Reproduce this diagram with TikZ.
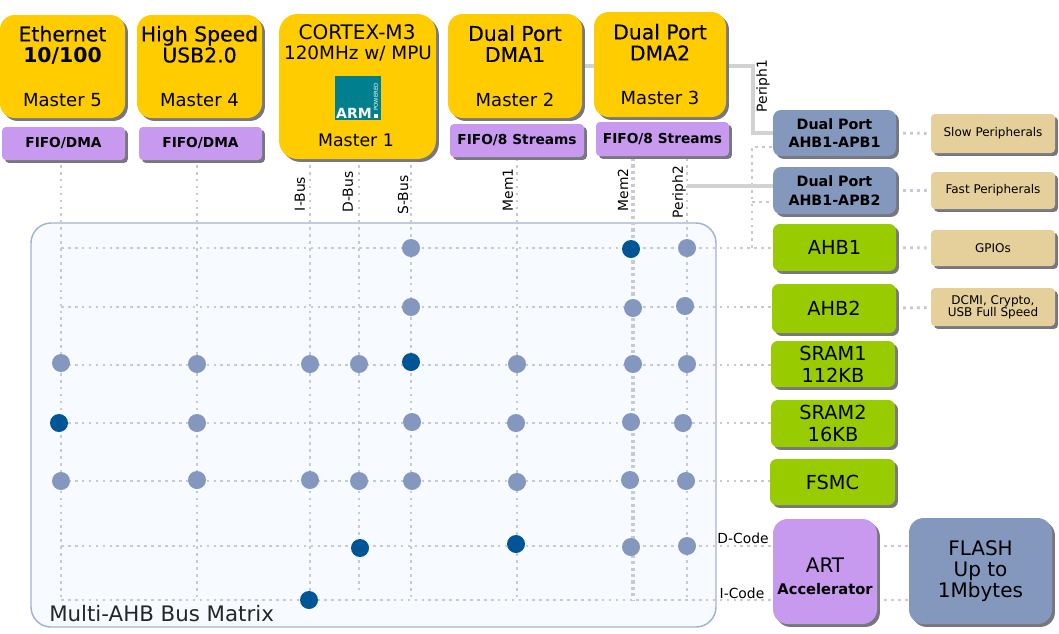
\documentclass[tikz,border=0pt]{standalone}
\usepackage{fontspec}
\setmainfont{DejaVu Sans}
\newfontfamily\semi[FakeBold=0.35]{DejaVu Sans}
\usetikzlibrary{shadows,backgrounds}
\definecolor{ybox}{HTML}{FFCC00}
\definecolor{pbox}{HTML}{C799EF}
\definecolor{bbox}{HTML}{8497BC}
\definecolor{gbox}{HTML}{99CC00}
\definecolor{tbox}{HTML}{E5CF9A}
\definecolor{shad}{HTML}{77777F}
\definecolor{panel}{HTML}{F7FAFF}
\definecolor{panelb}{HTML}{A3B2D3}
\definecolor{busc}{HTML}{C6CAD2}
\definecolor{solc}{HTML}{D2D2D4}
\definecolor{dotl}{HTML}{8497BF}
\definecolor{dotd}{HTML}{005596}
\definecolor{armc}{HTML}{00808F}
\newcommand\fs[1]{\fontsize{#1}{#1}\selectfont}
\newcommand\bxn[7]{\node[#1,minimum width={(#5-#3)*0.75pt},minimum height={(#6-#4)*0.75pt}] (#2) at ({(#3+#5)/2},{(#4+#6)/2}) {#7};}
\tikzset{
 anybox/.style={rectangle,inner sep=0pt,align=center,text=black,general shadow={fill=shad,shadow xshift=2.2pt,shadow yshift=-2.2pt}},
 big/.style={anybox,rounded corners=11pt,fill=ybox,font=\fs{15.3}\semi},
 cortex/.style={anybox,rounded corners=14pt,fill=ybox,font=\fs{13.5}},
 fifo/.style={anybox,rounded corners=3pt,fill=pbox,font=\fs{10.3}\bfseries},
 bridge/.style={anybox,rounded corners=6pt,fill=bbox,font=\fs{10.7}\bfseries},
 green/.style={anybox,rounded corners=5pt,fill=gbox,font=\fs{14.5}},
 periph/.style={anybox,rounded corners=3pt,fill=tbox,font=\fs{9}},
 art/.style={anybox,rounded corners=11pt,fill=pbox,font=\fs{15}},
 flash/.style={anybox,rounded corners=11pt,fill=bbox,font=\fs{15}},
 bus/.style={draw=busc,line width=2.2pt,dash pattern=on 2pt off 3.2pt},
 busw/.style={draw=busc,line width=3pt,dash pattern=on 2.4pt off 2.4pt},
 solidl/.style={draw=solc,line width=2.8pt},
 dot/.style={circle,inner sep=0pt,minimum size=13.5pt},
 ld/.style={dot,fill=dotl},
 dd/.style={dot,fill=dotd},
 vlab/.style={rotate=90,inner sep=0pt,font=\fs{10.4},text=black},
 hlab/.style={inner sep=0pt,font=\fs{10.4},text=black},
}
\begin{document}
\begin{tikzpicture}[x=0.75pt,y=-0.75pt]
\useasboundingbox (0,0) rectangle (1059,633);
% column and row anchors
\foreach \n/\x/\yb in {c1/61/600,c2/197/600,c3/310/600,c4/359/590,c5/411/600,c6/517/600,c7/633/600,c8/687/600}{
  \coordinate (\n t) at (\x,158);
  \coordinate (\n b) at (\x,\yb);
}
\foreach \n/\y in {r1/248,r2/307,r3/365,r4/423,r5/481,r6/546,r7/600}{
  \coordinate (\n) at (61,\y);
}
\coordinate (p1a) at (753,66);
\coordinate (p1b) at (753,133);
\coordinate (p2a) at (687,186);
\coordinate (ahbt) at (752,248);
\coordinate (ahba) at (752,147);
\coordinate (ahbb) at (752,202);
% boxes
\bxn{green}{ahba1}{773}{224}{896}{271}{AHB1}
\bxn{green}{ahba2}{772}{284}{896}{333}{AHB2}
\bxn{green}{sram1}{771}{341}{895}{387}{SRAM1\\[2pt]112KB}
\bxn{green}{sram2}{771}{400}{895}{447}{SRAM2\\[2pt]16KB}
\bxn{green}{fsmc}{770}{459}{895}{505}{FSMC}
\bxn{art}{art}{773}{519}{877}{624}{\\[3pt]ART\\[1pt]{\fs{11}\bfseries Accelerator}}
\bxn{flash}{flash}{909}{518}{1052}{624}{FLASH\\[1pt]Up to\\[1pt]1Mbytes}
\bxn{bridge}{dp1}{773}{110}{896}{156}{Dual Port\\[3pt]AHB1-APB1}
\bxn{bridge}{dp2}{773}{167}{896}{214}{Dual Port\\[3pt]AHB1-APB2}
\bxn{periph}{slow}{931}{114}{1055}{153}{Slow Peripherals}
\bxn{periph}{fast}{931}{172}{1055}{209}{Fast Peripherals}
\bxn{periph}{gpio}{931}{230}{1055}{266}{GPIOs}
\bxn{periph}{dcmi}{931}{288}{1055}{326}{DCMI, Crypto,\\USB Full Speed}
\bxn{big}{dma1}{448}{14}{582}{118}{Dual Port\\[0.5pt]DMA1\\[18pt]{\fs{13.5}\normalfont Master 2}}
\bxn{big}{dma2}{594}{12}{726}{117}{Dual Port\\[0.5pt]DMA2\\[18pt]{\fs{13.5}\normalfont Master 3}}
\bxn{fifo}{fifo2}{450}{124}{584}{157}{FIFO/8 Streams}
\bxn{fifo}{fifo3}{596}{122}{729}{156}{FIFO/8 Streams}
\bxn{big}{eth}{0}{15}{125}{118}{Ethernet\\[0.5pt]{\normalfont\bfseries 10/100}\\[18pt]{\fs{13.5}\normalfont Master 5}}
\bxn{big}{usb}{137}{15}{262}{118}{High Speed\\[0.5pt]USB2.0\\[18pt]{\fs{13.5}\normalfont Master 4}}
\bxn{fifo}{fifo5}{2}{127}{125}{160}{FIFO/DMA}
\bxn{fifo}{fifo4}{139}{127}{262}{160}{FIFO/DMA}
\bxn{cortex}{m3}{279}{14}{436}{159}{}
\node[inner sep=0pt,font=\fs{15}] (m3a) at (357,32) {CORTEX-M3};
\node[inner sep=0pt,font=\fs{13.8}] (m3b) at (358,54) {120MHz w/ MPU};
\node[inner sep=0pt,font=\fs{13}] (m3c) at (356,140) {Master 1};
\node[rectangle,fill=armc,minimum width=34.5pt,minimum height=33pt,inner sep=0pt] (armlogo) at (358,98) {};
\node[inner sep=0pt,text=white,font=\fs{10.5}\bfseries] (armt) at (354,113) {ARM};
\node[rectangle,fill=white,inner sep=0pt,minimum size=3.5pt] (arms) at (376,116) {};
\node[rotate=90,inner sep=0pt,text=white,font=\fs{4}] (armp) at (376,97) {POWERED};
% panel and connectors behind the boxes
\begin{scope}[on background layer]
\draw[panelb,fill=panel,line width=1.1pt,rounded corners=15pt] (31,223) rectangle (716,627);
\foreach \n in {c1,c2,c3,c4,c5,c6,c8}{\draw[bus] (\n t) -- (\n b);}
\draw[busw] (c7t) -- (c7b);
\draw[bus] (r1) -- (r1 -| ahba1.west);
\draw[bus] (r2) -- (r2 -| ahba2.west);
\draw[bus] (r3) -- (r3 -| sram1.west);
\draw[bus] (r4) -- (r4 -| sram2.west);
\draw[bus] (r5) -- (r5 -| fsmc.west);
\draw[bus] (r6) -- (r6 -| art.west);
\draw[bus] (r7) -- (r7 -| art.west);
\draw[bus] (art.east |- r6) -- (flash.west |- r6);
\draw[bus] (art.east |- r7) -- (flash.west |- r7);
\draw[bus] (dp1) -- (slow);
\draw[bus] (dp2) -- (fast);
\draw[bus] (ahba1) -- (gpio);
\draw[bus] (ahba2) -- (dcmi);
\draw[bus] (ahbt) -- (ahba) -- (ahba -| dp1.west);
\draw[bus] (ahbb) -- (ahbb -| dp2.west);
\draw[solidl] (dma1.east |- p1a) -- (dma2.west |- p1a);
\draw[solidl] (dma2.east |- p1a) -- (p1a) -- (p1b) -- (dp1.west |- p1b);
\draw[solidl] (p2a) -- (p2a -| dp2.west);
\end{scope}
% dots
\foreach \n/\x/\y/\s in {
 a1/411/248/ld,a2/631/249/dd,a3/687/248/ld,
 b1/411/307/ld,b2/633/308/ld,b3/685/306/ld,
 d1/61/363/ld,d2/197/364/ld,d3/310/364/ld,d4/359/364/ld,d5/411/362/dd,d6/517/364/ld,d7/633/364/ld,d8/687/364/ld,
 e1/59/423/dd,e2/197/423/ld,e3/412/422/ld,e4/516/423/ld,e5/631/422/ld,e6/683/423/ld,
 f1/61/481/ld,f2/197/480/ld,f3/310/480/ld,f4/359/481/ld,f5/412/481/ld,f6/517/482/ld,f7/630/480/ld,f8/686/481/ld,
 g1/360/548/dd,g2/516/544/dd,g3/631/547/ld,g4/687/546/ld,
 h1/309/600/dd}{
  \node[\s] (\n) at (\x,\y) {};
}
% labels
\node[vlab] (li) at (300,194) {I-Bus};
\node[vlab] (ld) at (348,192) {D-Bus};
\node[vlab] (ls) at (403,195) {S-Bus};
\node[vlab] (lm1) at (508,190) {Mem1};
\node[vlab] (lm2) at (623,190) {Mem2};
\node[vlab] (lp2) at (679,192) {Periph2};
\node[vlab] (lp1) at (763,86) {Periph1};
\node[hlab] (ldc) at (743,538) {D-Code};
\node[hlab] (lic) at (742,593) {I-Code};
\node[inner sep=0pt,text=black!85,font=\fs{16},anchor=west] (title) at (49,614) {Multi-AHB Bus Matrix};
\end{tikzpicture}
\end{document}
